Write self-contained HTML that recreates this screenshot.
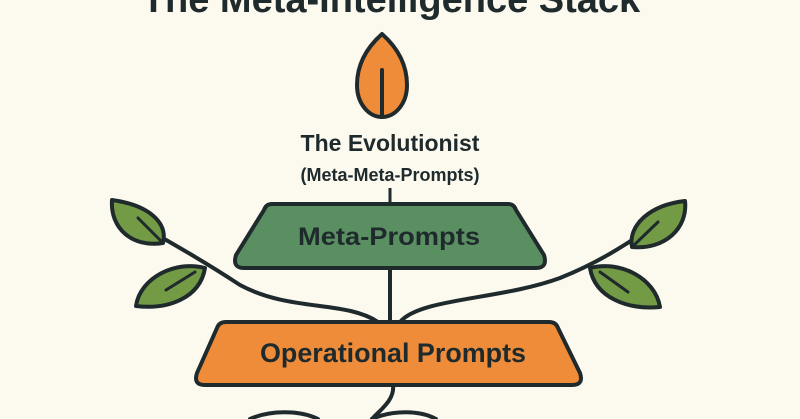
<!DOCTYPE html>
<html><head><meta charset="utf-8"><style>
html,body{margin:0;padding:0;background:#fcf9ef;}
svg{display:block;}
text{font-family:"Liberation Sans",sans-serif;fill:#1f2a2c;font-weight:bold;}
</style></head><body>
<svg width="800" height="419" viewBox="0 0 800 419" xmlns="http://www.w3.org/2000/svg">
<rect width="800" height="419" fill="#fcf9ef"/>
<text x="391" y="12" font-size="38" text-anchor="middle">The Meta-Intelligence Stack</text>
<!-- top leaf -->
<path d="M382,34 C364,50 357,68 357,85 C357,104 369,117 382,117 C395,117 407,104 407,85 C407,68 400,50 382,34 Z" fill="#ee8c3a" stroke="#1f2a2c" stroke-width="4" stroke-linejoin="round"/>
<line x1="382" y1="70" x2="382" y2="117" stroke="#1f2a2c" stroke-width="4" stroke-linecap="round"/>
<text x="390" y="151" font-size="23" text-anchor="middle">The Evolutionist</text>
<text x="390" y="181" font-size="18" text-anchor="middle">(Meta-Meta-Prompts)</text>
<line x1="390" y1="188" x2="390" y2="205" stroke="#1f2a2c" stroke-width="3"/>
<!-- stems -->
<g fill="none" stroke="#1f2a2c" stroke-width="4" stroke-linecap="round">
<path d="M140,225 C175,245 205,262 240,285 C290,312 345,300 378,322"/>
<path d="M660,222 C625,245 600,262 560,278 C500,300 420,298 400,322"/>
<line x1="390" y1="268" x2="390" y2="322"/>
<path d="M393,385 C395,400 380,410 372,419"/>
<path d="M250,419 C270,410 300,410 318,419"/>
<path d="M372,419 C392,410 420,410 436,419"/>
</g>
<!-- side leaves -->
<g stroke="#1f2a2c" stroke-width="4" stroke-linejoin="round" fill="#739a44">
<path d="M112,200 C148,205 168,222 163,243 C132,248 110,228 112,200 Z"/>
<path d="M136,306 C140,278 175,260 205,268 C200,298 168,310 136,306 Z"/>
<path d="M685,201 C650,205 628,225 632,247 C665,250 688,228 685,201 Z"/>
<path d="M660,307 C655,278 620,260 590,268 C595,298 628,310 660,307 Z"/>
</g>
<g stroke="#1f2a2c" stroke-width="3" stroke-linecap="round">
<line x1="138" y1="218" x2="163" y2="243"/>
<line x1="166" y1="290" x2="195" y2="272"/>
<line x1="658" y1="222" x2="632" y2="247"/>
<line x1="628" y1="292" x2="600" y2="272"/>
</g>
<!-- green box -->
<path d="M272,204 L508,204 Q514,204 516,210 L544,255 Q548,268 536,268 L244,268 Q232,268 236,255 L264,210 Q266,204 272,204 Z" fill="#5a8f62" stroke="#1f2a2c" stroke-width="4" stroke-linejoin="round"/>
<text x="389" y="245" font-size="25" text-anchor="middle" textLength="182" lengthAdjust="spacingAndGlyphs">Meta-Prompts</text>
<!-- orange box -->
<path d="M226,322 L549,322 Q556,322 558,328 L580,373 Q584,385 572,385 L205,385 Q193,385 197,373 L217,328 Q219,322 226,322 Z" fill="#ee8c3a" stroke="#1f2a2c" stroke-width="4" stroke-linejoin="round"/>
<text x="393" y="362" font-size="27" text-anchor="middle" textLength="266" lengthAdjust="spacingAndGlyphs">Operational Prompts</text>
</svg>
</body></html>
